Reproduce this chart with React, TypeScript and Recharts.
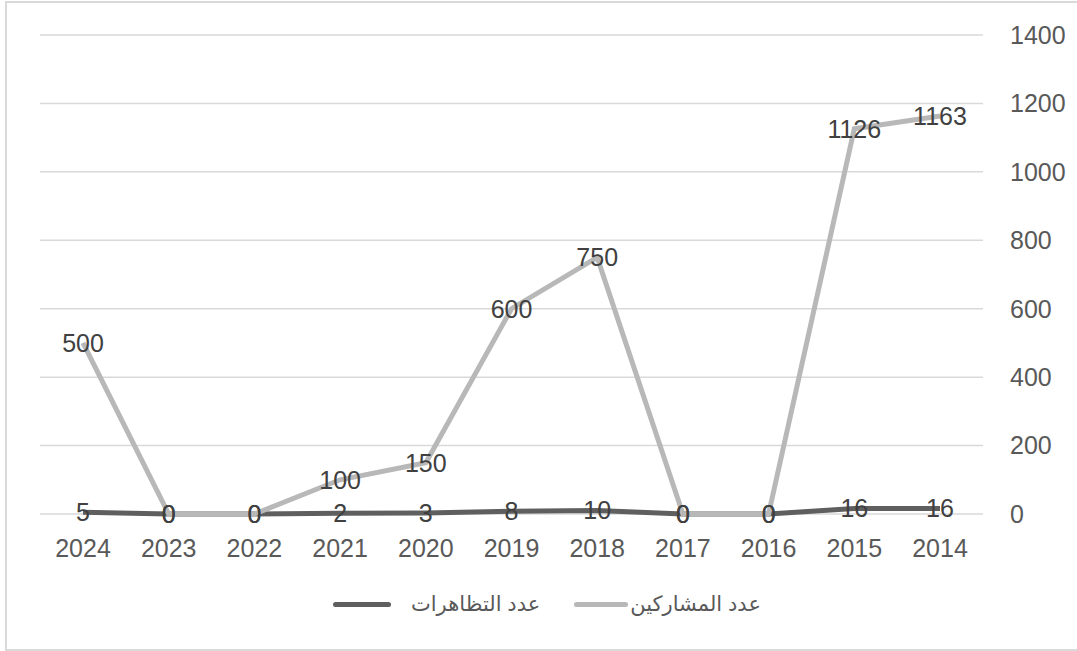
import { CartesianGrid, LabelList, Line, LineChart, XAxis, YAxis } from 'recharts';

const years = ['2024', '2023', '2022', '2021', '2020', '2019', '2018', '2017', '2016', '2015', '2014'];
const protests = [5, 0, 0, 2, 3, 8, 10, 0, 0, 16, 16];
const participants = [500, 0, 0, 100, 150, 600, 750, 0, 0, 1126, 1163];
const yTicks = [0, 200, 400, 600, 800, 1000, 1200, 1400];

const DARK = '#5f5f5f';
const LIGHT = '#b8b8b8';
const GRID = '#d9d9d9';
const TEXT = '#595959';
const LABEL = '#404040';
const FONT = '"Liberation Sans", Arial, "DejaVu Sans", sans-serif';

const data = years.map((y, i) => ({ year: y, protests: protests[i], participants: participants[i] }));

export default function App() {
  return (
    <div style={{ position: 'absolute', left: 0, top: 0, width: 1077, height: 651, background: '#fff', overflow: 'hidden', fontFamily: FONT }}>
      <div style={{ position: 'absolute', left: 5, top: 1, width: 1090, height: 646, border: `2px solid ${GRID}` }} />
      <LineChart width={1077} height={651} data={data} margin={{ top: 35, right: 0, bottom: 97, left: 40 }} style={{ position: 'absolute', left: 0, top: 0 }}>
        <CartesianGrid stroke={GRID} strokeWidth={1.5} vertical={false} />
        <XAxis dataKey="year" height={40} padding={{ left: 43, right: 43 }} axisLine={false} tickLine={false} tickMargin={19} tick={{ fill: TEXT, fontSize: 25, fontFamily: FONT }} interval={0} />
        <YAxis orientation="right" width={94} domain={[0, 1400]} ticks={yTicks} axisLine={false} tickLine={false} tickMargin={21} tick={{ fill: TEXT, fontSize: 25, fontFamily: FONT, textAnchor: 'start' }} />
        <Line dataKey="protests" stroke={DARK} strokeWidth={5} dot={false} isAnimationActive={false}>
          <LabelList dataKey="protests" position="center" fill={LABEL} fontSize={25} fontFamily={FONT} />
        </Line>
        <Line dataKey="participants" stroke={LIGHT} strokeWidth={5} dot={false} isAnimationActive={false}>
          <LabelList dataKey="participants" position="center" fill={LABEL} fontSize={25} fontFamily={FONT} />
        </Line>
      </LineChart>
      <div style={{ position: 'absolute', top: 592, left: 333, display: 'flex', alignItems: 'center', color: TEXT, fontSize: 21, fontFamily: FONT, whiteSpace: 'nowrap' }}>
        <span style={{ display: 'inline-block', width: 58, height: 5, background: DARK, borderRadius: 3, marginRight: 20 }} />
        <span>عدد التظاهرات</span>
        <span style={{ display: 'inline-block', width: 54, height: 5, background: LIGHT, borderRadius: 3, marginLeft: 34, marginRight: 2 }} />
        <span>عدد المشاركين</span>
      </div>
    </div>
  );
}
